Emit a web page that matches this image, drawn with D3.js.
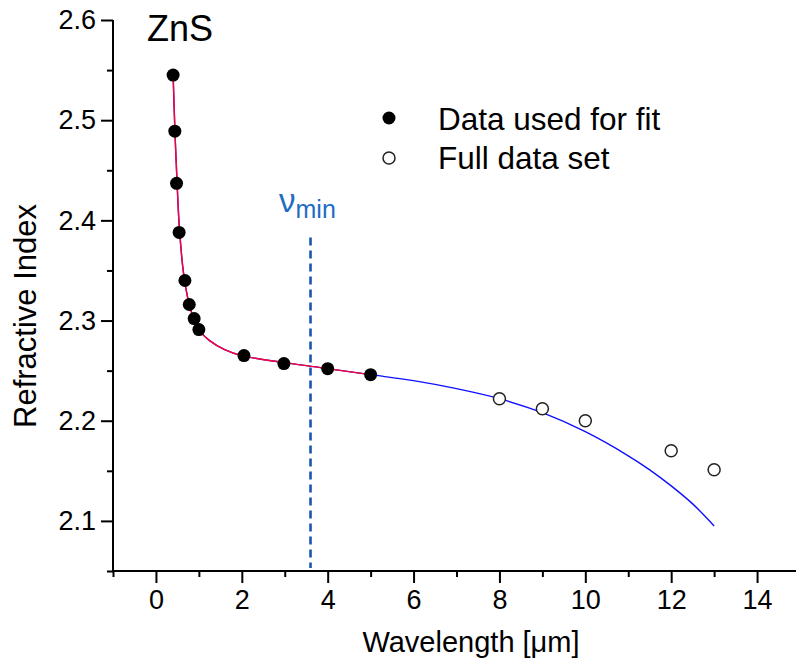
<!DOCTYPE html>
<html>
<head>
<meta charset="utf-8">
<script src="https://cdn.jsdelivr.net/npm/d3@7"></script>
<style>
  html, body { margin: 0; padding: 0; background: #fff; }
  svg { display: block; font-family: "Liberation Sans", Arial, sans-serif; }
</style>
</head>
<body>
<svg id="chart" width="796" height="669"></svg>
<script>
// Measured ZnS refractive index: points used in the fit
const fitWavelength = [0.40, 0.44, 0.48, 0.54, 0.675, 0.776, 0.89, 1.00, 2.05, 2.98, 4.00, 5.00];
const fitIndex      = [2.545, 2.489, 2.437, 2.388, 2.340, 2.316, 2.302, 2.291, 2.265, 2.257, 2.252, 2.246];

// Remaining points of the full data set (long-wavelength side)
const extraWavelength = [8.0, 9.0, 10.0, 12.0, 13.0];
const extraIndex      = [2.222, 2.212, 2.200, 2.170, 2.151];

// Fitted dispersion curve, sampled
const curveWavelength = [0.40, 0.45, 0.50, 0.55, 0.65, 0.80, 1.00, 1.25, 1.60, 2.00, 3.00, 4.00, 5.00, 6.00, 7.00, 8.00, 9.00, 10.0, 11.0, 11.5, 12.0, 12.5, 13.0];
const curveIndex      = [2.545, 2.480, 2.430, 2.390, 2.345, 2.312, 2.291, 2.280, 2.271, 2.265, 2.258, 2.252, 2.246, 2.240, 2.232, 2.222, 2.208, 2.189, 2.165, 2.151, 2.135, 2.117, 2.095];
const fitRangeMax = 5.0;

// Lower limit of the fit range
const nuMinWavelength = 3.6;
const nuMinTop = 2.383;

const xMajorTicks = [0, 2, 4, 6, 8, 10, 12, 14];
const xMinorTicks = [-1, 1, 3, 5, 7, 9, 11, 13];
const yMajorTicks = [2.1, 2.2, 2.3, 2.4, 2.5, 2.6];
const yMinorTicks = [2.05, 2.15, 2.25, 2.35, 2.45, 2.55];

const svg = d3.select("#chart");
const x = d3.scaleLinear().domain([-1, 15]).range([113, 800]);
const y = d3.scaleLinear().domain([2.05, 2.6]).range([571, 20]);

const axisColor = "#000";
const fontTick = 27;

// x axis
const gx = svg.append("g").attr("transform", `translate(0,${y(2.05)})`);
gx.call(d3.axisBottom(x).tickValues(xMinorTicks).tickSize(6).tickFormat(""));
gx.call(g => g.append("g").call(d3.axisBottom(x).tickValues(xMajorTicks).tickSize(12).tickPadding(7).tickFormat(d3.format("d"))));
gx.selectAll("path.domain").attr("stroke", axisColor).attr("stroke-width", 2);
gx.selectAll("line").attr("stroke", axisColor).attr("stroke-width", 2);
gx.selectAll("text").attr("font-size", fontTick).attr("fill", "#000").attr("font-family", "Liberation Sans, Arial, sans-serif");
gx.selectAll("path.domain").attr("d", `M${x(-1)},0H796`);

// y axis
const gy = svg.append("g").attr("transform", `translate(${x(-1)},0)`);
gy.call(d3.axisLeft(y).tickValues(yMinorTicks).tickSize(6).tickFormat(""));
gy.call(g => g.append("g").call(d3.axisLeft(y).tickValues(yMajorTicks).tickSize(12).tickPadding(5).tickFormat(d3.format(".1f"))));
gy.selectAll("path.domain").attr("stroke", axisColor).attr("stroke-width", 2).attr("d", `M0,${y(2.6)}V${y(2.05)}`);
gy.selectAll("line").attr("stroke", axisColor).attr("stroke-width", 2);
gy.selectAll("text").attr("font-size", fontTick).attr("fill", "#000").attr("font-family", "Liberation Sans, Arial, sans-serif");

// axis titles
svg.append("text")
  .attr("x", 471).attr("y", 652)
  .attr("text-anchor", "middle").attr("font-size", 29)
  .text("Wavelength [μm]");
svg.append("text")
  .attr("transform", `translate(36,${316}) rotate(-90)`)
  .attr("text-anchor", "middle").attr("font-size", 31)
  .text("Refractive Index");

// fit-range boundary
svg.append("line")
  .attr("x1", x(nuMinWavelength)).attr("x2", x(nuMinWavelength))
  .attr("y1", y(nuMinTop)).attr("y2", y(2.053))
  .attr("stroke", "#1a56b0").attr("stroke-width", 2.6)
  .attr("stroke-dasharray", "8,5");
const nuLabel = svg.append("text")
  .attr("x", 279).attr("y", 212)
  .attr("fill", "#1f6cc4").attr("font-size", 33);
nuLabel.append("tspan").text("ν");
nuLabel.append("tspan").attr("dy", 6).attr("font-size", 25).text("min");

// fitted curve
const pts = curveWavelength.map((w, i) => [w, curveIndex[i]]);
const line = d3.line().x(d => x(d[0])).y(d => y(d[1])).curve(d3.curveCatmullRom.alpha(0.5));
svg.append("path").datum(pts)
  .attr("d", line).attr("fill", "none")
  .attr("stroke", "#1010ff").attr("stroke-width", 1.4);
svg.append("path").datum(pts.filter(d => d[0] <= fitRangeMax))
  .attr("d", line).attr("fill", "none")
  .attr("stroke", "#ff0030").attr("stroke-width", 1.4);

// data points
svg.append("g").selectAll("circle")
  .data(fitWavelength.map((w, i) => [w, fitIndex[i]]))
  .join("circle")
  .attr("cx", d => x(d[0])).attr("cy", d => y(d[1]))
  .attr("r", 6.5).attr("fill", "#000");
svg.append("g").selectAll("circle")
  .data(extraWavelength.map((w, i) => [w, extraIndex[i]]))
  .join("circle")
  .attr("cx", d => x(d[0])).attr("cy", d => y(d[1]))
  .attr("r", 6).attr("fill", "#fff").attr("stroke", "#222").attr("stroke-width", 1.5);

// sample name
svg.append("text").attr("x", 147).attr("y", 41).attr("font-size", 36).text("ZnS");

// legend
svg.append("circle").attr("cx", 389).attr("cy", 118).attr("r", 6.5).attr("fill", "#000");
svg.append("text").attr("x", 438).attr("y", 130).attr("font-size", 31.5).text("Data used for fit");
svg.append("circle").attr("cx", 389).attr("cy", 158).attr("r", 6).attr("fill", "#fff").attr("stroke", "#222").attr("stroke-width", 1.5);
svg.append("text").attr("x", 438).attr("y", 169).attr("font-size", 31.5).text("Full data set");
</script>
</body>
</html>
